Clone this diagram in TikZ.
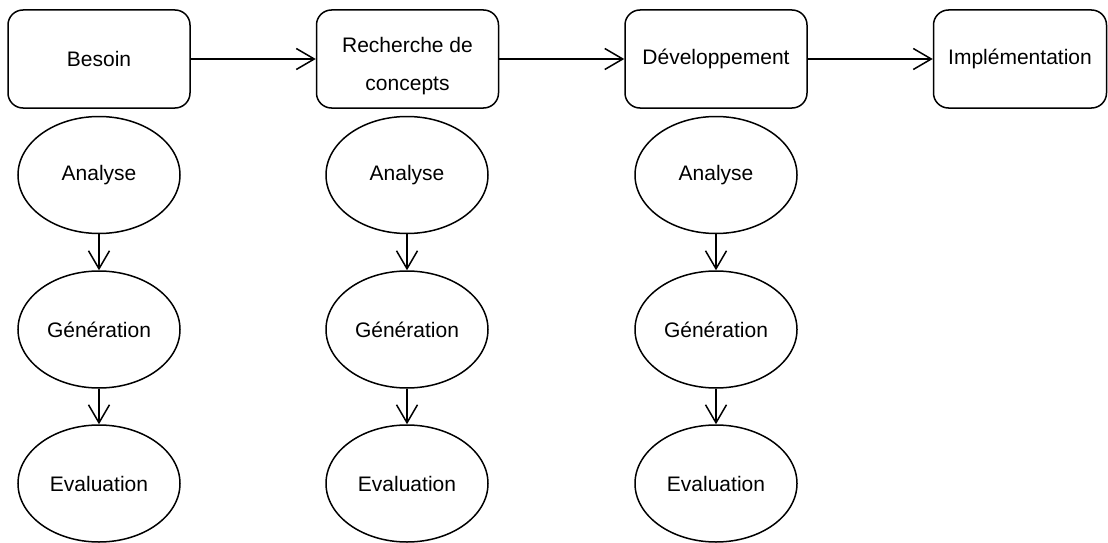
\documentclass[tikz,border=0pt]{standalone}
\usepackage{fontspec}
\setmainfont{Liberation Sans}
\usetikzlibrary{shapes.geometric,arrows.meta}
\begin{document}
\begin{tikzpicture}[x=1pt,y=-1pt,
  every node/.style={font=\fontsize{21}{38}\selectfont, inner sep=0pt},
  phase/.style={draw, line width=1.5pt, rounded corners=15pt, minimum width=182pt, minimum height=98pt, align=center},
  act/.style={draw, ellipse, line width=1.5pt, minimum width=162pt, minimum height=117pt},
  conn/.style={line width=1.5pt, -{Straight Barb[length=18pt, width=21pt, line width=1.5pt]}}
]
\useasboundingbox (0,0) rectangle (1108,543);
\node[phase] (b) at (99,59) {Besoin};
\node[phase] (r) at (407.5,59) {\rule{0pt}{29pt}Recherche de\\concepts};
\node[phase] (d) at (716,59) {Développement};
\node[phase, minimum width=173pt] (i) at (1020,59) {Implémentation};
\draw[conn] (b) -- (r);
\draw[conn] (r) -- (d);
\draw[conn] (d) -- (i);
\foreach \c/\x in {1/99, 2/407, 3/716} {
  \node[act] (a\c) at (\x,175) {Analyse};
  \node[act] (g\c) at (\x,329.5) {Génération};
  \node[act] (e\c) at (\x,483.5) {Evaluation};
  \draw[conn] (a\c) -- (g\c);
  \draw[conn] (g\c) -- (e\c);
}
\end{tikzpicture}
\end{document}
